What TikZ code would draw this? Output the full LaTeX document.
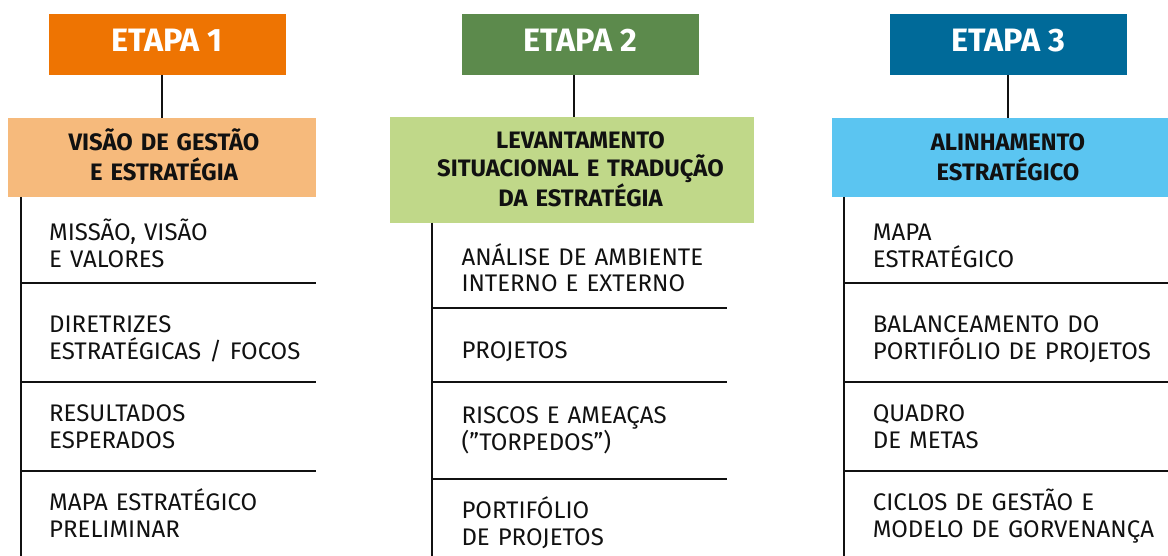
\documentclass[tikz,border=0pt]{standalone}
\usepackage{fontspec}
\setmainfont{Fira Sans}
\definecolor{o1}{HTML}{EE7402}
\definecolor{o2}{HTML}{F6BA7C}
\definecolor{g1}{HTML}{5C8A4C}
\definecolor{g2}{HTML}{C0D889}
\definecolor{b1}{HTML}{006A99}
\definecolor{b2}{HTML}{5BC5F1}
\definecolor{ink}{HTML}{111111}
\begin{document}
\begin{tikzpicture}[x=1pt,y=-1pt,
  box/.style={draw=none, inner sep=0pt, outer sep=0pt, anchor=north west},
  htext/.style={anchor=base, inner sep=0pt, text=white, font=\fontsize{32.4}{36}\selectfont\bfseries},
  stext/.style={anchor=base, inner sep=0pt, text=ink, text width=340pt, align=center},
  s1font/.style={font=\fontsize{23.8}{29.8}\selectfont\bfseries},
  s2font/.style={font=\fontsize{23.8}{28.4}\selectfont\bfseries},
  item/.style={anchor=base west, inner sep=0pt, text=ink, text width=300pt, align=left, font=\fontsize{24}{26.7}\selectfont},
  rail/.style={draw=ink, line width=2pt},
  conn/.style={draw=ink, line width=2pt}]
\useasboundingbox (0,0) rectangle (1168,556);
% ---------- column 1 ----------
\node[box, fill=o1, minimum width=237pt, minimum height=61pt] (h1) at (49,14) {};
\node[htext] (h1t) at (167,51.7) {ETAPA 1};
\node[box, fill=o2, minimum width=308pt, minimum height=79pt] (s1) at (8,118) {};
\node[stext, s1font] (s1t) at (164,150.7) {VISÃO DE GESTÃO\\ E ESTRATÉGIA};
\coordinate (c1) at (162,0);
\draw[conn] (h1.south -| c1) -- (s1.north -| c1);
\coordinate (r1top) at (21,197);
\coordinate (r1bot) at (21,556);
\draw[rail] (r1top) -- (r1bot);
\foreach \yy in {282.7,382,471.3} \draw[rail] (21,\yy) -- (316,\yy);
\node[item] (a1) at (49,240.7) {MISSÃO, VISÃO\\E VALORES};
\node[item] (a2) at (49,332.7) {DIRETRIZES\\ESTRATÉGICAS / FOCOS};
\node[item] (a3) at (49,421.7) {RESULTADOS\\ESPERADOS};
\node[item] (a4) at (49,510.3) {MAPA ESTRATÉGICO\\PRELIMINAR};
% ---------- column 2 ----------
\node[box, fill=g1, minimum width=236.7pt, minimum height=61pt] (h2) at (462,14) {};
\node[htext] (h2t) at (580.3,51.7) {ETAPA 2};
\node[box, fill=g2, minimum width=364pt, minimum height=105.7pt] (s2) at (390,117) {};
\node[stext, s2font] (s2t) at (580.5,148.3) {LEVANTAMENTO\\SITUACIONAL E TRADUÇÃO\\DA ESTRATÉGIA};
\coordinate (c2) at (573.7,0);
\draw[conn] (h2.south -| c2) -- (s2.north -| c2);
\coordinate (r2top) at (432.3,222.7);
\coordinate (r2bot) at (432.3,556);
\draw[rail] (r2top) -- (r2bot);
\foreach \yy in {308,382,479.3} \draw[rail] (432.3,\yy) -- (727.3,\yy);
\node[item] (b1i) at (461.3,265.3) {ANÁLISE DE AMBIENTE\\INTERNO E EXTERNO};
\node[item] (b2i) at (461.3,358.3) {PROJETOS};
\node[item] (b3i) at (461.3,423.3) {RISCOS E AMEAÇAS\\("TORPEDOS”)};
\node[item] (b4i) at (461.3,518.3) {PORTIFÓLIO\\DE PROJETOS};
% ---------- column 3 ----------
\node[box, fill=b1, minimum width=236.7pt, minimum height=61pt] (h3) at (890,14) {};
\node[htext] (h3t) at (1008.3,51.7) {ETAPA 3};
\node[box, fill=b2, minimum width=336pt, minimum height=79pt] (s3) at (832,118) {};
\node[stext, s1font] (s3t) at (1008,150.7) {ALINHAMENTO\\ESTRATÉGICO};
\coordinate (c3) at (1008.3,0);
\draw[conn] (h3.south -| c3) -- (s3.north -| c3);
\coordinate (r3top) at (844.3,197);
\coordinate (r3bot) at (844.3,556);
\draw[rail] (r3top) -- (r3bot);
\foreach \yy in {282.7,382,471.3} \draw[rail] (844.3,\yy) -- (1168,\yy);
\node[item] (d1) at (872.7,240.7) {MAPA\\ESTRATÉGICO};
\node[item] (d2) at (872.7,332.7) {BALANCEAMENTO DO\\PORTIFÓLIO DE PROJETOS};
\node[item] (d3) at (872.7,421.7) {QUADRO\\DE METAS};
\node[item] (d4) at (872.7,510.3) {CICLOS DE GESTÃO E\\MODELO DE GORVENANÇA};
\end{tikzpicture}
\end{document}
